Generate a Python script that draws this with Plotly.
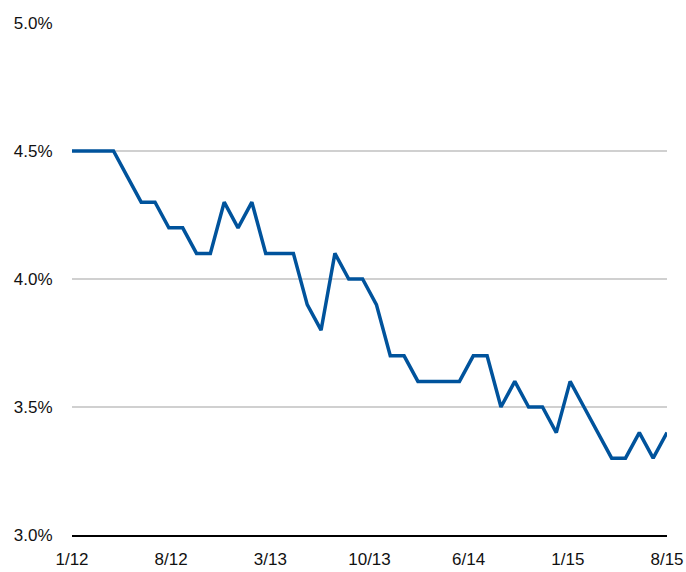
import plotly.graph_objects as go

months = ["1/12","2/12","3/12","4/12","5/12","6/12","7/12","8/12","9/12","10/12","11/12","12/12",
          "1/13","2/13","3/13","4/13","5/13","6/13","7/13","8/13","9/13","10/13","11/13","12/13",
          "1/14","2/14","3/14","4/14","5/14","6/14","7/14","8/14","9/14","10/14","11/14","12/14",
          "1/15","2/15","3/15","4/15","5/15","6/15","7/15","8/15"]
rate = [4.5, 4.5, 4.5, 4.5, 4.4, 4.3, 4.3, 4.2, 4.2, 4.1, 4.1, 4.3,
        4.2, 4.3, 4.1, 4.1, 4.1, 3.9, 3.8, 4.1, 4.0, 4.0, 3.9, 3.7,
        3.7, 3.6, 3.6, 3.6, 3.6, 3.7, 3.7, 3.5, 3.6, 3.5, 3.5, 3.4,
        3.6, 3.5, 3.4, 3.3, 3.3, 3.4, 3.3, 3.4]
tick_labels = ["1/12", "8/12", "3/13", "10/13", "6/14", "1/15", "8/15"]
y_ticks = [3.0, 3.5, 4.0, 4.5, 5.0]
y_tick_labels = ["3.0%", "3.5%", "4.0%", "4.5%", "5.0%"]

n = len(rate)
x = list(range(n))
span = n - 1
tickvals = [i * span / (len(tick_labels) - 1) for i in range(len(tick_labels))]

fig = go.Figure()
fig.add_trace(go.Scatter(
    x=x, y=rate, mode="lines",
    line=dict(color="#00539c", width=3.5),
    customdata=months,
    hovertemplate="%{customdata}: %{y:.1f}%<extra></extra>",
    cliponaxis=False,
))

fig.update_layout(
    width=686, height=572,
    margin=dict(l=72, r=19, t=23, b=37, autoexpand=False),
    plot_bgcolor="white", paper_bgcolor="white",
    showlegend=False,
    font=dict(family="Liberation Sans, Arial, sans-serif", size=17, color="#111111"),
    xaxis=dict(
        range=[0, span], automargin=False,
        tickmode="array", tickvals=tickvals, ticktext=tick_labels,
        showgrid=False, zeroline=False,
        showline=True, linecolor="black", linewidth=1.5,
        ticks="outside", ticklen=8, tickcolor="rgba(0,0,0,0)",
    ),
    yaxis=dict(
        range=[3.0, 5.0], automargin=False,
        tickmode="array", tickvals=y_ticks, ticktext=y_tick_labels,
        showgrid=True, gridcolor="#d0d0d0", gridwidth=1.5,
        zeroline=False, showline=False,
        ticks="outside", ticklen=15, tickcolor="rgba(0,0,0,0)",
    ),
)

fig.write_html(
    "out.html",
    config={"displayModeBar": False},
    post_script="document.body.style.margin='0';document.body.style.overflow='hidden';",
)
